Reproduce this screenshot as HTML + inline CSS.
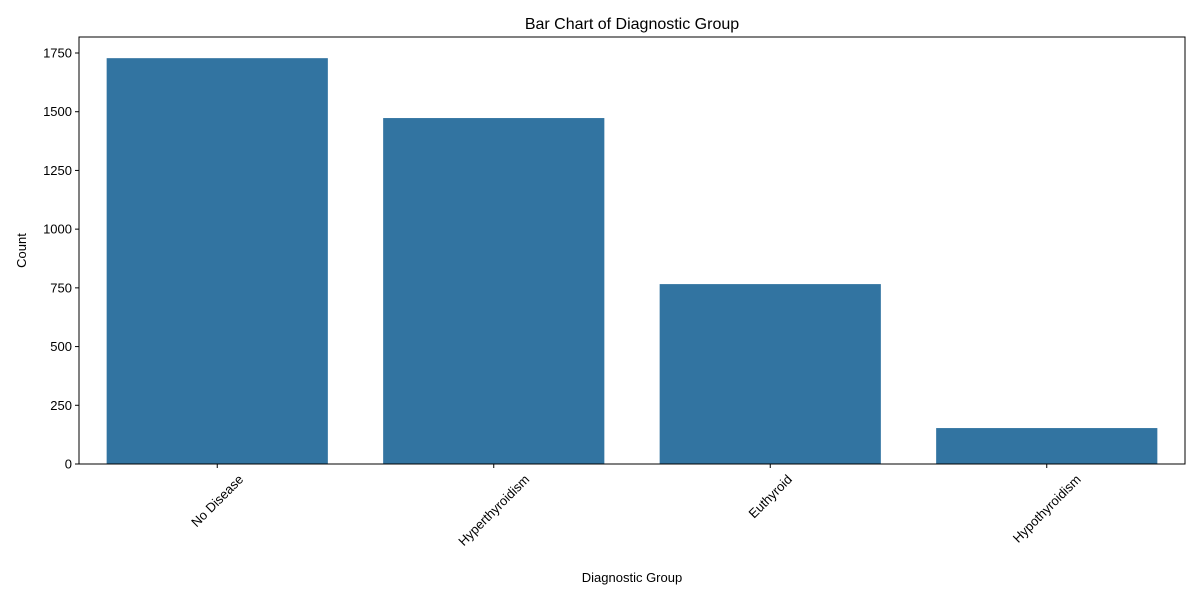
<!DOCTYPE html>
<html><head><meta charset="utf-8"><style>
html,body{margin:0;padding:0;background:#fff;}
svg{display:block;font-family:"Liberation Sans","DejaVu Sans",sans-serif;}
</style></head><body>
<svg id="chart" width="1200" height="600" viewBox="0 0 1200 600">
<rect width="1200" height="600" fill="#fff"/>
<g id="plot"></g>
</svg>
<script>
const categories = ["No Disease","Hyperthyroidism","Euthyroid","Hypothyroidism"];
const counts = [1728, 1473, 766, 153];
const yTicks = [0,250,500,750,1000,1250,1500,1750];

const L=79,R=1185,T=37,B=464;
const yMax = 1750*(B-T)/(B-53);
const ns="http://www.w3.org/2000/svg";
const g=document.getElementById('plot');
function y(v){return B-(v/yMax)*(B-T);}
const slot=(R-L)/categories.length;
function xc(i){return L+slot*(i+0.5);}
function mk(tag,attrs,parent){const e=document.createElementNS(ns,tag);for(const k in attrs)e.setAttribute(k,attrs[k]);(parent||g).appendChild(e);return e;}

counts.forEach((v,i)=>{
  const w=slot*0.8;
  const r=mk('rect',{x:xc(i)-w/2,y:y(v),width:w,height:B-y(v),fill:'#3274a1'});
  
  
});
const frame=mk('rect',{x:L,y:T,width:R-L,height:B-T,fill:'none',stroke:'#000','stroke-width':1});



yTicks.forEach(t=>{
  const yy=y(t);
  const tk=mk('line',{x1:L-4,x2:L,y1:yy,y2:yy,stroke:'#000'});
  
  
  const tx=mk('text',{x:L-7,y:yy+4.5,'text-anchor':'end','font-size':13,fill:'#000'});
  tx.textContent=t;
  
  
});
categories.forEach((c,i)=>{
  const xx=xc(i);
  const tk=mk('line',{x1:xx,x2:xx,y1:B,y2:B+4,stroke:'#000'});
  
  
  const tx=mk('text',{x:0,y:0,'text-anchor':'middle','font-size':13,fill:'#000'});
  tx.textContent=c;
  
  
  const len=tx.getComputedTextLength();
  const cy=B+8+len*0.3536+5;
  tx.setAttribute('x',xx);
  tx.setAttribute('y',cy+4.5);
  tx.setAttribute('transform',`rotate(-45 ${xx} ${cy})`);
});
const title=mk('text',{x:(L+R)/2,y:29,'text-anchor':'middle','font-size':16,fill:'#000'});
title.textContent='Bar Chart of Diagnostic Group';


const xt=mk('text',{x:(L+R)/2,y:582,'text-anchor':'middle','font-size':13,fill:'#000'});
xt.textContent='Diagnostic Group';


const yt=mk('text',{x:26,y:(T+B)/2,'text-anchor':'middle','font-size':13,fill:'#000',transform:`rotate(-90 26 ${(T+B)/2})`});
yt.textContent='Count';


</script>
</body></html>
